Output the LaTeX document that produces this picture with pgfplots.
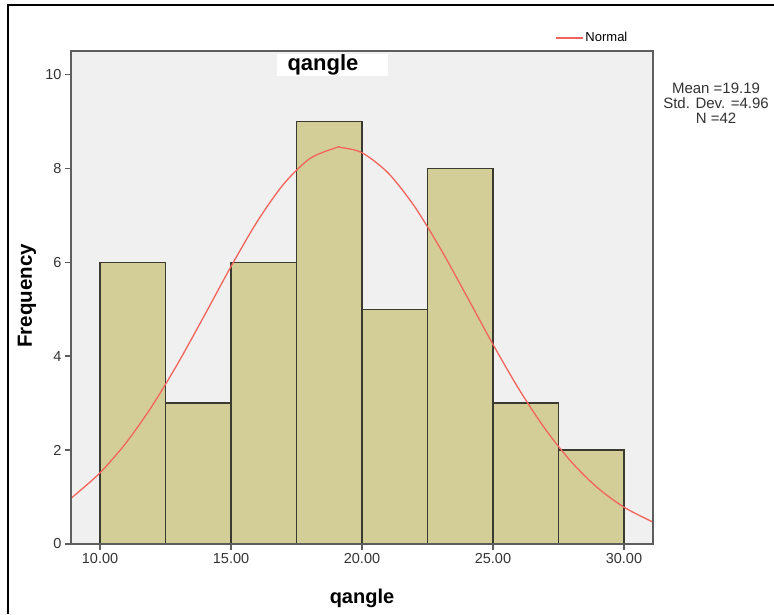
\documentclass[border=0pt]{standalone}
\usepackage{pgfplots}
\pgfplotsset{compat=1.18}
\usepackage{fontspec}
\setmainfont{Liberation Sans}

\definecolor{panelbg}{HTML}{F0F0F0}
\definecolor{barfill}{HTML}{D3CE97}
\definecolor{baredge}{HTML}{3A3A30}
\definecolor{normred}{HTML}{F2645C}
\definecolor{axgrey}{HTML}{5E5E5E}
\definecolor{ticktxt}{HTML}{333333}

% histogram counts (bin centres, width 2.5)
\pgfplotstableread{
x    n
11.25 6
13.75 3
16.25 6
18.75 9
21.25 5
23.75 8
26.25 3
28.75 2
}\bins

\begin{document}
\begin{tikzpicture}
\useasboundingbox (-71pt,-70pt) rectangle (703pt,544pt);
\draw[line width=2.2pt] (-63pt,-70pt) -- (-63pt,539pt) -- (703pt,539pt);
\begin{axis}[
    at={(0pt,0pt)}, anchor=south west,
    scale only axis, width=582pt, height=493pt,
    xmin=8.89, xmax=31.11, ymin=0, ymax=10.5,
    axis background/.style={fill=panelbg},
    axis on top,
    axis line style={axgrey, line width=1.4pt},
    tick pos=left, tick align=outside,
    major tick length=6pt,
    tick style={axgrey, line width=1.4pt},
    xtick={10,15,20,25,30}, ytick={0,2,4,6,8,10},
    xticklabel style={/pgf/number format/.cd, fixed, fixed zerofill, precision=2},
    /pgf/number format/assume math mode=true,
    ticklabel style={font=\fontsize{14.5}{14.5}\selectfont, text=ticktxt},
    xlabel={\textbf{qangle}},
    ylabel={\textbf{Frequency}},
    every axis x label/.style={at={(axis description cs:0.5,-0.1095)}, anchor=center, font=\fontsize{20}{20}\selectfont},
    every axis y label/.style={at={(axis description cs:-0.0756,0.503)}, anchor=center, rotate=90, font=\fontsize{20.5}{20.5}\selectfont},
    legend style={at={(axis description cs:0.8316,1.0264)}, anchor=west, draw=none, fill=none,
        inner sep=0pt, font=\fontsize{13}{13}\selectfont},
    legend cell align=left,
    legend image code/.code={\draw[#1] (0pt,0pt) -- (27pt,0pt);},
  ]
  \addplot[ybar, bar width=2.5, bar shift=0pt, fill=barfill, draw=baredge,
    line width=1.3pt, forget plot] table[x=x, y=n] {\bins};
  \addplot[normred, line width=1.3pt, smooth] coordinates {
    (8.89,0.978) (9,1.024) (10,1.518) (11,2.160) (12,2.953) (13,3.876)
    (14,4.885) (15,5.911) (16,6.868) (17,7.660) (18,8.205) (19,8.439)
    (19.19,8.445) (20,8.333) (21,7.901) (22,7.193) (23,6.287) (24,5.277)
    (25,4.252) (26,3.290) (27,2.445) (28,1.744) (29,1.194) (30,0.785)
    (31,0.496) (31.11,0.470)
  };
  \addlegendentry{Normal}
  \fill[white] (rel axis cs:0.354,0.949) rectangle (rel axis cs:0.545,0.994);
  \node[font=\bfseries\fontsize{22}{22}\selectfont] at (rel axis cs:0.433,0.972) {qangle};
\end{axis}
\node[align=center, font=\fontsize{15}{15}\selectfont, text=ticktxt] at (645pt,441pt)
  {Mean =19.19\\Std. Dev. =4.96\\N =42};
\end{tikzpicture}
\end{document}
